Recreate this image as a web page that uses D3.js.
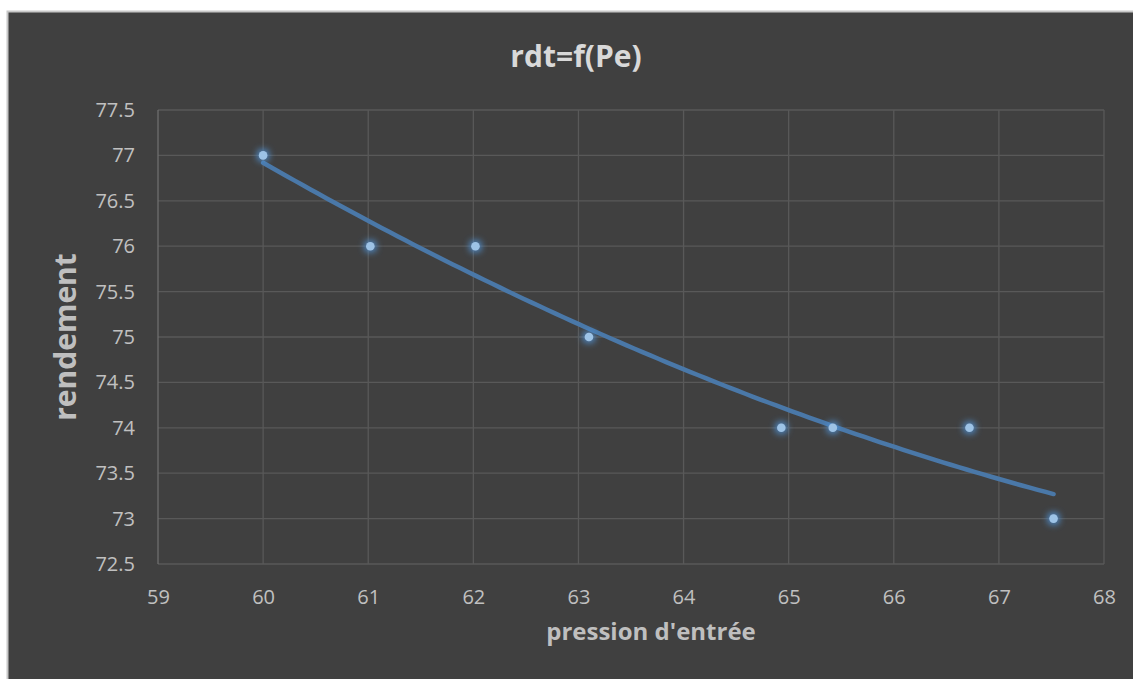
<!DOCTYPE html>
<html>
<head>
<meta charset="utf-8">
<script src="https://cdn.jsdelivr.net/npm/d3@7"></script>
<style>
  body { margin: 0; background: #fff; }
  text { font-family: "Open Sans", "DejaVu Sans", sans-serif; }
</style>
</head>
<body>
<div id="plot"></div>
<script>
// pression d'entrée / rendement
var pression = [60, 61.02, 62.02, 63.1, 64.93, 65.42, 66.72, 67.52];
var rendement = [77, 76, 76, 75, 74, 74, 74, 73];
var xTicks = [59, 60, 61, 62, 63, 64, 65, 66, 67, 68];
var yTicks = [72.5, 73, 73.5, 74, 74.5, 75, 75.5, 76, 76.5, 77, 77.5];

var W = 1133, H = 679;
var margin = {top: 110, right: 29, bottom: 115, left: 158};
var width = W - margin.left - margin.right,
    height = H - margin.top - margin.bottom;

var svg = d3.select("#plot").append("svg")
    .attr("width", W)
    .attr("height", H);

var defs = svg.append("defs");
var glow = defs.append("filter").attr("id", "glow")
    .attr("x", "-300%").attr("y", "-300%").attr("width", "700%").attr("height", "700%");
glow.append("feMorphology").attr("in", "SourceAlpha").attr("operator", "dilate").attr("radius", 2).attr("result", "d");
glow.append("feGaussianBlur").attr("in", "d").attr("stdDeviation", 3).attr("result", "b");
glow.append("feFlood").attr("flood-color", "#4f8fd0").attr("flood-opacity", 0.85);
glow.append("feComposite").attr("in2", "b").attr("operator", "in").attr("result", "g");
var mrg = glow.append("feMerge");
mrg.append("feMergeNode").attr("in", "g");
mrg.append("feMergeNode").attr("in", "SourceGraphic");

// chart area
svg.append("rect")
    .attr("x", 7.5).attr("y", 11.5)
    .attr("width", W).attr("height", H)
    .style("fill", "#404040")
    .style("stroke", "#c8c8c8")
    .style("stroke-width", 2);

var x = d3.scaleLinear().domain([59, 68]).range([0, width]);
var y = d3.scaleLinear().domain([72.5, 77.5]).range([height, 0]);

var g = svg.append("g")
    .attr("transform", "translate(" + margin.left + "," + margin.top + ")");

// grid
g.append("g").selectAll("line").data(yTicks).join("line")
    .attr("x1", 0).attr("x2", width)
    .attr("y1", d => y(d)).attr("y2", d => y(d))
    .style("stroke", "#595959").style("stroke-width", 1.3);
g.append("g").selectAll("line").data(xTicks).join("line")
    .attr("y1", 0).attr("y2", height)
    .attr("x1", d => x(d)).attr("x2", d => x(d))
    .style("stroke", d => d === 59 ? "#6e6e6e" : "#595959").style("stroke-width", 1.3);

// axes (labels only)
var xAxis = g.append("g")
    .attr("transform", "translate(0," + height + ")")
    .call(d3.axisBottom(x).tickValues(xTicks).tickSize(0).tickPadding(26).tickFormat(d3.format("d")));
var yAxis = g.append("g")
    .call(d3.axisLeft(y).tickValues(yTicks).tickSize(0).tickPadding(23).tickFormat(d => d));
[xAxis, yAxis].forEach(function(a) {
  a.select(".domain").remove();
  a.selectAll("text").style("font-size", "20px").style("fill", "#c0c0c0")
      .style("font-family", "'Open Sans', sans-serif");
});

// polynomial trendline (order 2, least squares)
function polyfit2(xs, ys) {
  var n = xs.length, s = [0, 0, 0, 0, 0], t = [0, 0, 0];
  for (var i = 0; i < n; i++) {
    var p = 1;
    for (var k = 0; k < 5; k++) { s[k] += p; if (k < 3) t[k] += p * ys[i]; p *= xs[i]; }
  }
  var A = [[s[0], s[1], s[2], t[0]], [s[1], s[2], s[3], t[1]], [s[2], s[3], s[4], t[2]]];
  for (var c = 0; c < 3; c++) {
    for (var r = c + 1; r < 3; r++) {
      var f = A[r][c] / A[c][c];
      for (var j = c; j < 4; j++) A[r][j] -= f * A[c][j];
    }
  }
  var co = [0, 0, 0];
  for (var r2 = 2; r2 >= 0; r2--) {
    var v = A[r2][3];
    for (var j2 = r2 + 1; j2 < 3; j2++) v -= A[r2][j2] * co[j2];
    co[r2] = v / A[r2][r2];
  }
  return co;
}
// centre x for numerical stability
var x0 = d3.mean(pression);
var co = polyfit2(pression.map(d => d - x0), rendement);
var trendX = d3.range(0, 101).map(i => pression[0] + (pression[pression.length - 1] - pression[0]) * i / 100);
g.append("path")
    .datum(trendX)
    .attr("d", d3.line().x(d => x(d)).y(d => y(co[0] + co[1] * (d - x0) + co[2] * (d - x0) * (d - x0))))
    .style("fill", "none")
    .style("stroke", "#4a78a8")
    .style("stroke-width", 4.5)
    .style("stroke-linecap", "round");

// points
g.append("g").selectAll("circle").data(pression).join("circle")
    .attr("cx", d => x(d))
    .attr("cy", (d, i) => y(rendement[i]))
    .attr("r", 4.3)
    .style("fill", "#9dc3e6")
    .attr("filter", "url(#glow)");

// titles
svg.append("text")
    .attr("x", 576).attr("y", 67)
    .attr("text-anchor", "middle")
    .style("font-size", "30px").style("font-weight", "bold").style("fill", "#d9d9d9")
    .text("rdt=f(Pe)");
svg.append("text")
    .attr("transform", "translate(76," + (margin.top + height / 2) + ") rotate(-90)")
    .attr("text-anchor", "middle")
    .style("font-size", "30px").style("font-weight", "bold").style("fill", "#bfbfbf")
    .text("rendement");
svg.append("text")
    .attr("x", 651).attr("y", 640)
    .attr("text-anchor", "middle")
    .style("font-size", "24px").style("font-weight", "bold").style("fill", "#bfbfbf")
    .text("pression d'entrée");
</script>
</body>
</html>
